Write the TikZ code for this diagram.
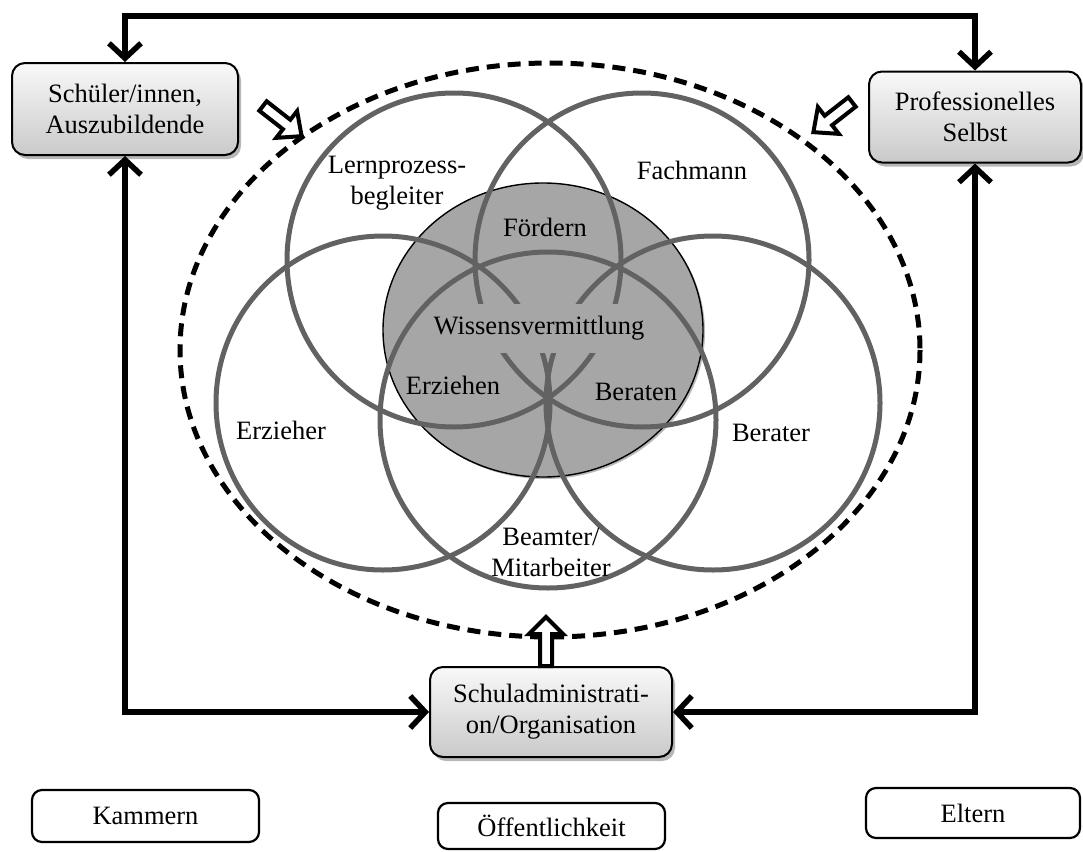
\documentclass[tikz,border=0pt]{standalone}
\usepackage{fontspec}
\setmainfont{Liberation Serif}
\usetikzlibrary{arrows.meta,shadows,calc}
\definecolor{ringc}{RGB}{98,98,98}
\definecolor{corec}{RGB}{166,166,166}
\begin{document}
\begin{tikzpicture}[x=1pt,y=-1pt,
  every node/.style={font=\fontsize{26.5}{31}\selectfont},
  ring/.style={draw=ringc,line width=5pt},
  mainbox/.style={draw=black,line width=2pt,rounded corners=13pt,top color=gray!5,bottom color=gray!42,
    align=center,inner sep=0pt,drop shadow={shadow xshift=3pt,shadow yshift=-4pt,fill=gray!80,opacity=0.7}},
  plainbox/.style={draw=black,line width=2.2pt,rounded corners=10pt,fill=white,inner sep=0pt},
  conn/.style={line width=5.5pt,>={Straight Barb[length=15pt,width=32pt]},<->},
  hollow/.style={draw=black,fill=white,line width=4pt,miter limit=10},
  lbl/.style={align=center,inner sep=0pt}]
\useasboundingbox (0,0) rectangle (1083,851);

% dashed outer ellipse
\draw[line width=5pt,dash pattern=on 13pt off 8pt] (550,350) ellipse[x radius=370,y radius=287];

% central grey disc
\draw[fill=corec,draw=black,line width=1.4pt,drop shadow={shadow xshift=2pt,shadow yshift=-2pt,fill=gray!55,opacity=1}]
  (543,330) ellipse[x radius=160,y radius=147];

% five role circles
\draw[ring] (454,260) circle[radius=167];
\draw[ring] (642,260) circle[radius=167];
\draw[ring] (383,403) circle[radius=167];
\draw[ring] (713,403) circle[radius=167];
\draw[ring] (548,420) circle[radius=168];

% labels
\node[lbl] (lern) at (397,183) {Lernprozess-\\begleiter};
\node[lbl] (fach) at (692,170) {Fachmann};
\node[lbl] (foerd) at (545,227) {Fördern};
\node[lbl,fill=corec,minimum height=49pt,inner xsep=2pt] (wiss) at (539,328) {Wissensvermittlung};
\node[lbl] (erzn) at (453,385) {Erziehen};
\node[lbl] (berat) at (636,392) {Beraten};
\node[lbl] (erzr) at (281,430) {Erzieher};
\node[lbl] (berr) at (771,433) {Berater};
\node[lbl] (beam) at (551,552) {Beamter/\\Mitarbeiter};

% main boxes
\node[mainbox,minimum width=226pt,minimum height=92pt] (s) at (125,109) {Schüler/innen,\\Auszubildende};
\node[mainbox,minimum width=212pt,minimum height=91pt] (p) at (975,117) {Professionelles\\Selbst};
\node[mainbox,minimum width=242pt,minimum height=90pt] (a) at (551,712) {Schuladministrati-\\on/Organisation};

% plain boxes
\node[plainbox,minimum width=227pt,minimum height=52pt] (k) at (145.5,816) {Kammern};
\node[plainbox,minimum width=227pt,minimum height=46pt] (o) at (551.5,826) {Öffentlichkeit};
\node[plainbox,minimum width=214pt,minimum height=50pt] (e) at (973,813) {Eltern};

% connectors
\coordinate (top) at (550,16);
\draw[conn] (s.north) |- (top) -| (p.north);
\draw[conn] (s.south) |- (a.west);
\draw[conn] (p.south) |- (a.east);

% hollow block arrows
\draw[hollow,shift={(263,106)},rotate=-38]
  (0,-6) -- (30,-6) -- (30,-17) -- (49,0) -- (30,17) -- (30,6) -- (0,6) -- cycle;
\draw[hollow,shift={(852,102)},rotate=-142]
  (0,-6) -- (30,-6) -- (30,-17) -- (49,0) -- (30,17) -- (30,6) -- (0,6) -- cycle;
\draw[hollow,shift={([xshift=-5pt]a.north)},rotate=90]
  (0,-6) -- (32,-6) -- (32,-17) -- (49,0) -- (32,17) -- (32,6) -- (0,6) -- cycle;
\end{tikzpicture}
\end{document}
